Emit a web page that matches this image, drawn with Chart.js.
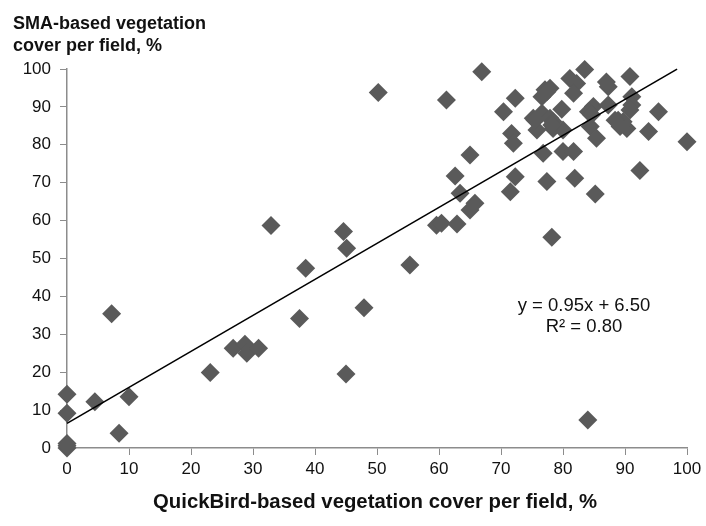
<!DOCTYPE html>
<html><head><meta charset="utf-8">
<script src="https://cdn.jsdelivr.net/npm/chart.js@4.4.0/dist/chart.umd.min.js"></script>
<style>html,body{margin:0;padding:0;background:#fff}#wrap{width:706px;height:526px}</style>
</head><body><div id="wrap"><canvas id="c" width="706" height="526"></canvas></div>
<script>
const quickBird = [0,0,0,0,0,4.5,8.4,10,7.2,23.1,26.8,28.7,29,30.9,37.5,38.5,45.1,45,47.9,50.2,32.9,44.6,55.3,
66.9,61.2,72.3,70.4,83.5,81.1,82.2,81.7,87,87.3,90.8,91.1,77.1,77.9,76.6,79.8,84.9,87.3,91.1,90.8,95.4,75.2,76.6,77.9,75.8,78.4,80,84.1,84.4,85.4,88.9,90.3,89.7,93.8,100,71.7,72,65,76.8,80,81.7,62.6,72.3,77.4,81.9,92.4,63.4,71.5,85.2,65.8,65,59.6,60.4,62.9,78.2,84,
84.6,88.4,89.2,78.4,77.4,75.5,78.2];
const sma = [14.2,9.2,0,0.6,1.2,12.2,3.9,13.5,35.4,19.9,26.3,27.4,25,26.3,34.2,47.4,52.7,19.5,37,93.8,58.7,57.1,48.3,
99.3,91.8,92.3,88.7,99.9,97.5,96.2,93.6,96.6,95.3,98,92.7,94.5,94.9,92.7,89.4,90.1,90.5,90.5,89.2,88.7,87,88.3,87,83.9,84.3,83.9,88.7,84.8,81.7,86.5,84.3,86.1,83.5,80.8,83,80.4,77.3,77.8,78.2,78.2,71.8,71.6,70.3,71.2,73.2,67.2,67.6,67,64.6,62.8,58.8,59.3,59.1,55.6,7.4,
87.9,86.5,84.8,86.1,94,86.5,85.2];
const trendX = [0, 98.4];
const slope = 0.95, intercept = 6.5;
const ticks = [0,10,20,30,40,50,60,70,80,90,100];
const yTitle = ["SMA-based vegetation", "cover per field, %"];
const xTitle = "QuickBird-based vegetation cover per field, %";
const eqText = ["y = 0.95x + 6.50", "R\u00B2 = 0.80"];

const points = quickBird.map((x,i)=>({x:x, y:sma[i]}));
const trend = trendX.map(x=>({x:x, y:slope*x+intercept}));

const textPlugin = {
  id:'texts',
  afterDraw(chart){
    const ctx = chart.ctx;
    ctx.save();
    ctx.fillStyle = '#111';
    ctx.textBaseline = 'alphabetic';
    ctx.font = 'bold 18px "Liberation Sans", Arial, sans-serif';
    ctx.textAlign = 'left';
    ctx.fillText(yTitle[0], 13, 29);
    ctx.fillText(yTitle[1], 13, 51);
    ctx.font = 'bold 18px "Liberation Sans", Arial, sans-serif';
    const w = ctx.measureText(xTitle).width;
    ctx.textAlign = 'center';
    ctx.translate(375, 508);
    ctx.scale(444 / w, 1.08);
    ctx.fillText(xTitle, 0, 0);
    ctx.restore();
    ctx.save();
    ctx.fillStyle = '#111';
    ctx.textAlign = 'center';
    ctx.font = '18.5px "Liberation Sans", Arial, sans-serif';
    ctx.fillText(eqText[0], 584, 311);
    ctx.fillText(eqText[1], 584, 332);
    ctx.restore();
  }
};

new Chart(document.getElementById('c'), {
  type:'scatter',
  data:{datasets:[
    {data:points, pointStyle:'rectRot', pointRadius:9.5, pointHoverRadius:9.5, backgroundColor:'#5a5a5a', borderColor:'#5a5a5a', borderWidth:0, clip:false, order:2},
    {type:'line', data:trend, borderColor:'#000', borderWidth:1.6, pointRadius:0, fill:false, clip:false, order:1}
  ]},
  options:{
    responsive:false, animation:false,
    layout:{padding:{left:0, top:69, right:19, bottom:0}},
    plugins:{legend:{display:false}, tooltip:{enabled:false}},
    scales:{
      x:{type:'linear', min:0, max:100, afterBuildTicks:s=>{s.ticks=ticks.map(v=>({value:v}));},
        afterFit:s=>{s.height=78;},
        grid:{drawOnChartArea:false, drawTicks:true, tickLength:7, color:'#8c8c8c'},
        border:{color:'#8c8c8c', width:1.5},
        ticks:{color:'#111', font:{family:'"Liberation Sans", Arial, sans-serif', size:17}, padding:4, maxRotation:0}},
      y:{type:'linear', min:0, max:100, afterBuildTicks:s=>{s.ticks=ticks.map(v=>({value:v}));},
        afterFit:s=>{s.width=67;},
        grid:{drawOnChartArea:false, drawTicks:true, tickLength:7, color:'#8c8c8c'},
        border:{color:'#8c8c8c', width:1.5},
        ticks:{color:'#111', font:{family:'"Liberation Sans", Arial, sans-serif', size:17}, padding:9}}
    }
  },
  plugins:[textPlugin]
});
</script></body></html>
